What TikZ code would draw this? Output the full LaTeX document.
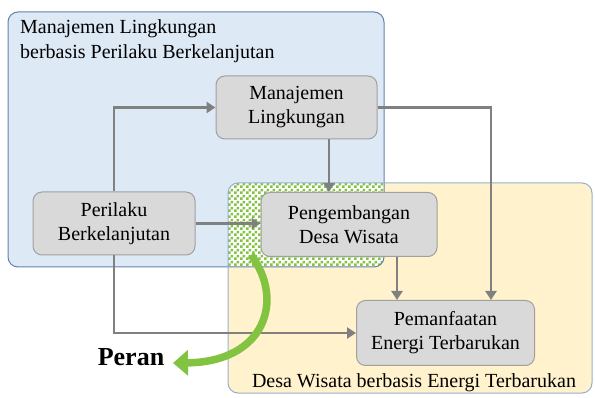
\documentclass[tikz,border=0pt]{standalone}
\usepackage{fontspec}
\setmainfont{Liberation Serif}
\usetikzlibrary{arrows.meta,patterns.meta}
\definecolor{bluefill}{RGB}{222,233,246}
\definecolor{blueline}{RGB}{100,130,175}
\definecolor{yelfill}{RGB}{255,242,204}
\definecolor{yelline}{RGB}{150,175,210}
\definecolor{boxfill}{RGB}{217,217,217}
\definecolor{boxline}{RGB}{160,160,160}
\definecolor{arrgray}{RGB}{128,128,128}
\definecolor{grn}{RGB}{130,195,65}
\tikzdeclarepattern{name=mycheck, type=uncolored,
  bounding box={(0pt,0pt) and (6pt,6pt)}, tile size={(6pt,6pt)},
  code={\fill (0pt,0pt) rectangle (3pt,3pt); \fill (3pt,3pt) rectangle (6pt,6pt);}}
\tikzset{
  gbox/.style={draw=boxline, line width=1pt, fill=boxfill, rounded corners=9pt, align=center,
    font=\fontsize{20}{24}\selectfont, inner sep=0pt},
  arr/.style={draw=arrgray, line width=2.8pt, -{Triangle[length=9pt,width=11pt]}},
  lbl/.style={font=\fontsize{20}{25}\selectfont, inner sep=0pt},
}
\begin{document}
\begin{tikzpicture}[x=1pt,y=-1pt]
\useasboundingbox (0,0) rectangle (595,398);
% regions
\path[fill=bluefill] (8,12) [rounded corners=10pt] rectangle (384,267);
\path[fill=yelfill] (228,183) [rounded corners=10pt] rectangle (592,393);
\begin{scope}
  \clip[rounded corners=10pt] (8,12) rectangle (384,267);
  \fill[white, rounded corners=10pt] (228,183) rectangle (592,393);
  \fill[pattern={mycheck}, pattern color=grn, rounded corners=10pt] (228,183) rectangle (592,393);
\end{scope}
\draw[blueline, line width=1pt, rounded corners=10pt] (8,12) rectangle (384,267);
\draw[yelline, line width=1pt, rounded corners=10pt] (228,183) rectangle (592,393);
% titles
\node[lbl, anchor=north west, align=left] (t1) at (20,19) {Manajemen Lingkungan\\berbasis Perilaku Berkelanjutan};
\node[lbl, anchor=center] (t2) at (414,383) {Desa Wisata berbasis Energi Terbarukan};
\node[font=\fontsize{26}{30}\selectfont\bfseries, inner sep=0pt] (peran) at (131,357) {Peran};
% boxes
\node[gbox, minimum width=161pt, minimum height=63pt] (manj) at (296.5,107.5) {Manajemen\\Lingkungan};
\node[gbox, minimum width=162pt, minimum height=63pt] (peri) at (114,223.5) {Perilaku\\Berkelanjutan};
\node[gbox, minimum width=176pt, minimum height=64pt] (peng) at (349,224.5) {Pengembangan\\Desa Wisata};
\node[gbox, minimum width=178pt, minimum height=65pt] (pem) at (445.5,333) {Pemanfaatan\\Energi Terbarukan};
% connectors
\coordinate (c1) at (329,0);
\coordinate (c2) at (491,0);
\coordinate (c3) at (397,0);
\draw[arr] (peri.north) |- (manj.west);
\draw[arr] (peri.east) -- (peri.east -| peng.west);
\draw[arr] (c1 |- manj.south) -- (c1 |- peng.north);
\draw[arr] (manj.east) -| (c2 |- pem.north);
\draw[arr] (c3 |- peng.south) -- (c3 |- pem.north);
\draw[arr] (peri.south) |- (pem.west);
% green arrow
\coordinate (gs) at (251,255);
\coordinate (ge) at (173,363);
\draw[grn, line width=7.5pt, -{Triangle[length=15pt,width=25pt]}] (gs) .. controls (285,300) and (265,362) .. (ge);
\end{tikzpicture}
\end{document}
